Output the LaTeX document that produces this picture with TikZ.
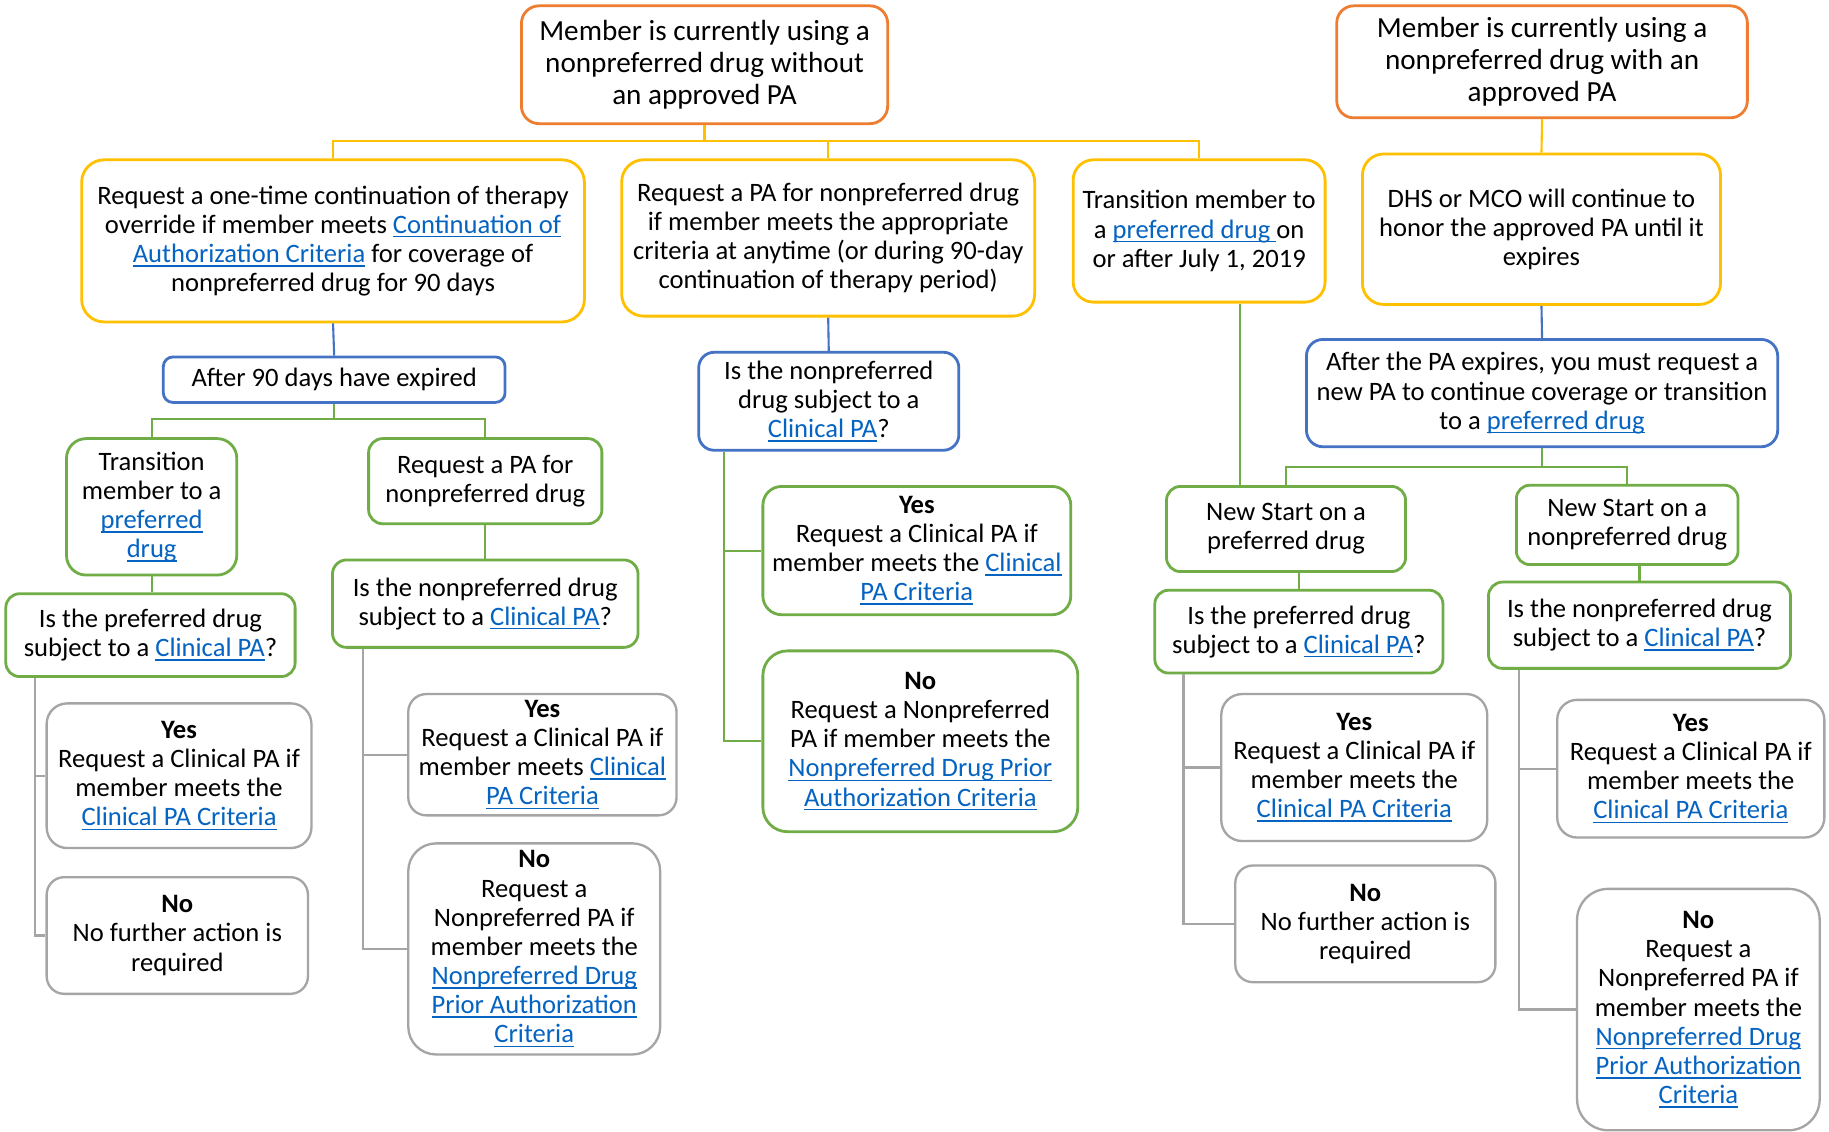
\documentclass[tikz,border=0pt]{standalone}
\usepackage{fontspec}
\setmainfont{Carlito}
\definecolor{orangeC}{HTML}{ED7D31}
\definecolor{yellowC}{HTML}{FFC000}
\definecolor{blueC}{HTML}{4472C4}
\definecolor{greenC}{HTML}{70AD47}
\definecolor{grayC}{HTML}{A5A5A5}
\definecolor{linkC}{HTML}{0563C1}
\newcommand\lnk[1]{{\color{linkC}\setbox0\hbox{#1}\rlap{\rule[-3.6pt]{\wd0}{1.4pt}}\box0}}
\newcommand\mkbox[7]{%
  \pgfmathsetmacro\bxw{#5-#3}%
  \pgfmathsetmacro\bxh{#6-#4}%
  \pgfmathsetmacro\bxr{4+0.11*min(\bxw,\bxh)}%
  \pgfmathsetmacro\bxx{(#3+#5)/2}%
  \pgfmathsetmacro\bxy{(#4+#6)/2}%
  \node[#2, minimum width=\bxw pt, minimum height=\bxh pt, rounded corners=\bxr pt] (#1) at (\bxx,\bxy) {#7};}
\tikzset{
  boxbase/.style={draw, fill=white, align=center, inner sep=1pt, text=black, font=\fontsize{22.8}{25}\selectfont},
  orbox/.style={boxbase, draw=orangeC, line width=2.4pt, font=\fontsize{25}{27.5}\selectfont},
  yebox/.style={boxbase, draw=yellowC, line width=2.4pt},
  blbox/.style={boxbase, draw=blueC, line width=2.4pt},
  grbox/.style={boxbase, draw=greenC, line width=2.4pt},
  gybox/.style={boxbase, draw=grayC, line width=2pt},
  yeline/.style={draw=yellowC, line width=1.8pt},
  blline/.style={draw=blueC, line width=1.8pt},
  grline/.style={draw=greenC, line width=1.8pt},
  gyline/.style={draw=grayC, line width=2pt},
}
\begin{document}
\begin{tikzpicture}[x=1pt,y=-1pt]
\useasboundingbox[fill=white] (0,0) rectangle (1568,970);
\coordinate (ytop) at (0,121);
\coordinate (gleft) at (0,359.5);
\coordinate (gright) at (0,400);
% top level boxes
\mkbox{A1}{orbox}{447}{5}{761}{106}{Member is currently using a\\nonpreferred drug without\\an approved PA}
\mkbox{A2}{orbox}{1146}{5}{1498}{101}{Member is currently using a\\nonpreferred drug with an\\approved PA}
\mkbox{B1}{yebox}{70}{137}{501}{276}{Request a one-time continuation of therapy\\override if member meets \lnk{Continuation of}\\\lnk{Authorization Criteria} for coverage of\\nonpreferred drug for 90 days}
\mkbox{B2}{yebox}{533}{137}{887}{271}{Request a PA for nonpreferred drug\\if member meets the appropriate\\criteria at anytime (or during 90-day\\continuation of therapy period)}
\mkbox{B3}{yebox}{920}{137}{1136}{259}{Transition member to\\a \lnk{preferred drug\ }on\\or after July 1, 2019}
\mkbox{B4}{yebox}{1168}{132}{1475}{261}{DHS or MCO will continue to\\honor the approved PA until it\\expires}
\mkbox{C1}{blbox}{140}{306}{433}{345}{After 90 days have expired}
\mkbox{C2}{blbox}{599}{302}{822}{386}{Is the nonpreferred\\drug subject to a\\\lnk{Clinical PA}?}
\mkbox{C4}{blbox}{1120}{291}{1524}{383}{After the PA expires, you must request a\\new PA to continue coverage or transition\\to a \lnk{preferred drug}}
% left branch
\mkbox{D1}{grbox}{57}{376}{203}{493}{Transition\\member to a\\\lnk{preferred}\\\lnk{drug}}
\mkbox{D2}{grbox}{316}{376}{516}{449}{Request a PA for\\nonpreferred drug}
\mkbox{E1}{grbox}{5}{509}{253}{580}{Is the preferred drug\\subject to a \lnk{Clinical PA}?}
\mkbox{E2}{grbox}{285}{480}{547}{555}{Is the nonpreferred drug\\subject to a \lnk{Clinical PA}?}
\mkbox{F1}{gybox}{40}{603}{267}{727}{\textbf{Yes}\\Request a Clinical PA if\\member meets the\\\lnk{Clinical PA Criteria}}
\mkbox{G1}{gybox}{40}{752}{264}{852}{\textbf{No}\\No further action is\\required}
\mkbox{F2}{gybox}{350}{595}{580}{699}{\textbf{Yes}\\Request a Clinical PA if\\member meets \lnk{Clinical}\\\lnk{PA Criteria}}
\mkbox{G2}{gybox}{350}{723}{566}{904}{\textbf{No}\\Request a\\Nonpreferred PA if\\member meets the\\\lnk{Nonpreferred Drug}\\\lnk{Prior Authorization}\\\lnk{Criteria}}
% middle branch
\mkbox{F3}{grbox}{654}{417}{918}{527}{\textbf{Yes}\\Request a Clinical PA if\\member meets the \lnk{Clinical}\\\lnk{PA Criteria}}
\mkbox{G3}{grbox}{654}{558}{924}{713}{\textbf{No}\\Request a Nonpreferred\\PA if member meets the\\\lnk{Nonpreferred Drug Prior}\\\lnk{Authorization Criteria}}
% right branch
\mkbox{D5}{grbox}{1000}{417}{1205}{490}{New Start on a\\preferred drug}
\mkbox{D6}{grbox}{1300}{416}{1490}{484}{New Start on a\\nonpreferred drug}
\mkbox{E5}{grbox}{990}{506}{1237}{577}{Is the preferred drug\\subject to a \lnk{Clinical PA}?}
\mkbox{E6}{grbox}{1276}{499}{1535}{573}{Is the nonpreferred drug\\subject to a \lnk{Clinical PA}?}
\mkbox{F5}{gybox}{1047}{595}{1275}{721}{\textbf{Yes}\\Request a Clinical PA if\\member meets the\\\lnk{Clinical PA Criteria}}
\mkbox{G5}{gybox}{1059}{742}{1282}{842}{\textbf{No}\\No further action is\\required}
\mkbox{F6}{gybox}{1335}{600}{1564}{718}{\textbf{Yes}\\Request a Clinical PA if\\member meets the\\\lnk{Clinical PA Criteria}}
\mkbox{G6}{gybox}{1352}{762}{1560}{969}{\textbf{No}\\Request a\\Nonpreferred PA if\\member meets the\\\lnk{Nonpreferred Drug}\\\lnk{Prior Authorization}\\\lnk{Criteria}}
% connectors
\draw[yeline] (A1.south) -- (A1.south |- ytop);
\draw[yeline] (B1.north) |- (B3.north |- ytop) -- (B3.north);
\draw[yeline] (B2.north) -- (B2.north |- ytop);
\draw[yeline] (A2.south) -- (B4.north);
\draw[blline] (B1.south) -- (C1.north);
\draw[blline] (B2.south) -- (C2.north);
\draw[blline] (B4.south) -- (C4.north);
\draw[grline] (C1.south) -- (C1.south |- gleft);
\draw[grline] (D1.north) |- (D2.north |- gleft) -- (D2.north);
\draw[grline] (D1.south) -- (D1.south |- E1.north);
\draw[grline] (D2.south) -- (E2.north);
\draw[gyline] (E1.south -| 30,0) |- (G1.west);
\draw[gyline] (F1.west) -- (F1.west -| 30,0);
\draw[gyline] (E2.south -| 311,0) |- (G2.west);
\draw[gyline] (F2.west) -- (F2.west -| 311,0);
\draw[grline] (C2.south -| 621,0) |- (G3.west);
\draw[grline] (F3.west) -- (F3.west -| 621,0);
\draw[grline] (B3.south -| 1063,0) -- (D5.north -| 1063,0);
\draw[grline] (C4.south) -- (C4.south |- gright);
\draw[grline] (D5.north) |- (D6.north |- gright) -- (D6.north);
\draw[grline] (E5.north) -- (E5.north |- D5.south);
\draw[grline] (E6.north) -- (E6.north |- D6.south);
\draw[gyline] (E5.south -| 1014.5,0) |- (G5.west);
\draw[gyline] (F5.west) -- (F5.west -| 1014.5,0);
\draw[gyline] (E6.south -| 1302,0) |- (G6.west);
\draw[gyline] (F6.west) -- (F6.west -| 1302,0);
\end{tikzpicture}
\end{document}
